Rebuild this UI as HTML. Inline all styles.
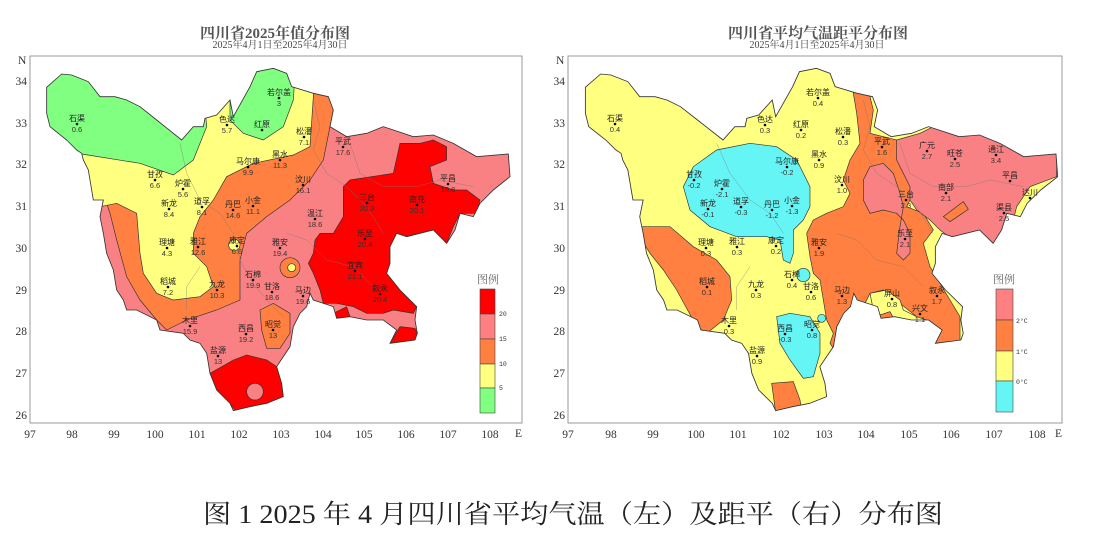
<!DOCTYPE html>
<html><head><meta charset="utf-8">
<style>
html,body{margin:0;padding:0;background:#fff;}
svg{display:block;}
.t{font-family:"Liberation Serif","Noto Serif CJK SC",serif;}
.s{font-family:"Liberation Sans","Noto Sans CJK SC",sans-serif;font-size:8px;fill:#222;text-anchor:middle;}
.v{font-family:"Liberation Sans",sans-serif;font-size:7.5px;fill:#333;text-anchor:middle;}
.ax{font-family:"Liberation Serif",serif;font-size:11.5px;fill:#333;}
</style></head><body>
<svg width="1099" height="548" viewBox="0 0 1099 548" xmlns="http://www.w3.org/2000/svg">
<defs>
<path id="sc" d="M140,262 L185,222 L215,225 L265,245 L300,290 L345,290 L380,300 L420,320 L470,360 L545,420 L580,380 L610,380 L615,355 L650,345 L690,300 L700,350 L750,260 L770,215 L820,205 L860,220 L875,260 L940,280 L985,290 L1000,330 L990,380 L1040,410 L1100,400 L1150,380 L1240,410 L1300,405 L1360,430 L1430,470 L1525,462 L1530,530 L1480,570 L1440,610 L1420,650 L1380,640 L1365,690 L1340,730 L1300,690 L1260,700 L1220,710 L1190,700 L1170,740 L1170,790 L1160,820 L1200,870 L1250,920 L1245,960 L1252,1000 L1245,1020 L1170,1030 L1190,990 L1150,960 L1100,960 L1050,950 L1010,955 L1000,920 L940,900 L930,880 L920,920 L900,940 L880,980 L870,1040 L850,1070 L830,1100 L845,1150 L850,1190 L800,1210 L750,1220 L700,1232 L690,1210 L650,1170 L630,1120 L620,1060 L600,1030 L570,1020 L550,1000 L480,990 L470,960 L410,930 L380,930 L370,900 L350,870 L340,810 L320,760 L310,700 L300,650 L310,600 L280,600 L265,510 L250,480 L245,460 L230,450 L200,420 L150,380 L140,340 Z"/>
<clipPath id="clipL"><use href="#sc"/></clipPath>
</defs>

<!-- ============ LEFT PANEL ============ -->
<text class="t" x="275" y="38" font-size="15" text-anchor="middle" fill="#555" font-weight="bold">四川省2025年值分布图</text>
<text class="t" x="280" y="48" font-size="10" text-anchor="middle" fill="#444">2025年4月1日至2025年4月30日</text>
<rect x="30" y="56" width="492" height="367" fill="none" stroke="#999" stroke-width="1"/>
<g transform="scale(0.33333)">
 <g clip-path="url(#clipL)">
  <rect x="0" y="0" width="1700" height="1400" fill="#f98184"/>
  <path d="M320,610 L100,300 L100,200 L960,200 L990,290 L1000,330 L990,380 L970,480 L930,540 L870,600 L800,650 L740,700 L720,780 L720,900 L650,930 L560,960 L500,990 L470,960 L420,900 L380,830 L350,720 L330,640 Z" fill="#ff8040" stroke="#333" stroke-width="2"/>
  <path d="M100,200 L940,200 L940,290 L930,440 L880,465 L760,490 L680,530 L640,600 L600,650 L580,700 L580,760 L620,800 L640,860 L600,890 L520,900 L470,880 L430,820 L420,760 L410,640 L350,610 L300,620 L100,600 Z" fill="#ffff80" stroke="#333" stroke-width="2"/>
  <path d="M100,150 L600,150 L620,380 L580,480 L520,525 L420,490 L245,462 L100,460 Z" fill="#80ff80" stroke="#333" stroke-width="2"/>
  <path d="M690,150 L890,150 L880,300 L850,380 L790,420 L730,400 L690,360 Z" fill="#80ff80" stroke="#333" stroke-width="2"/>
  <path d="M780,930 L820,910 L870,940 L870,1000 L840,1045 L800,1045 L785,990 Z" fill="#ff8040" stroke="#333" stroke-width="2"/>
  <circle cx="703" cy="735" r="17" fill="#ffff80" stroke="#333" stroke-width="2"/>
  <circle cx="870" cy="803" r="30" fill="#ff8040" stroke="#333" stroke-width="2"/>
  <circle cx="875" cy="803" r="12" fill="#ffff80" stroke="#333" stroke-width="2"/>
  <path d="M1030,560 L1050,540 L1180,520 L1200,430 L1260,430 L1300,420 L1340,440 L1340,480 L1290,500 L1300,550 L1360,570 L1400,570 L1440,600 L1430,640 L1380,640 L1360,680 L1340,730 L1320,720 L1300,690 L1260,700 L1210,710 L1190,700 L1170,740 L1170,790 L1160,820 L1200,870 L1250,920 L1240,940 L1180,930 L1150,940 L1100,940 L1060,920 L1010,910 L970,910 L960,870 L940,820 L925,790 L940,760 L945,720 L960,700 L1000,700 L1030,650 Z" fill="#ff0000" stroke="#333" stroke-width="2"/>
  <path d="M1170,1030 L1200,980 L1245,985 L1255,1010 L1230,1028 Z" fill="#ff0000" stroke="#333" stroke-width="2"/>
  <path d="M1000,940 L1040,920 L1050,950 L1030,965 L1005,960 Z" fill="#ff0000" stroke="#333" stroke-width="2"/>
  <path d="M630,1120 L700,1080 L740,1065 L800,1080 L830,1100 L845,1150 L850,1190 L800,1210 L750,1222 L710,1238 L690,1210 L650,1170 Z" fill="#ff0000" stroke="#333" stroke-width="2"/>
  <circle cx="765" cy="1175" r="25" fill="#f98184" stroke="#333" stroke-width="2"/>
  <g fill="none" stroke="#777" stroke-width="1.5" opacity="0.7">
   <path d="M540,430 L560,520 L600,600 L660,640 L700,700 L720,780 L760,850 L800,900 L850,950"/>
   <path d="M940,300 L960,380 L940,450 L980,520 L1040,560 L1100,620 L1150,700"/>
   <path d="M1050,430 L1080,520 L1150,560 L1250,560 L1320,540 L1420,560"/>
   <path d="M860,700 L920,720 L980,780 L1060,800 L1120,860"/>
   <path d="M600,800 L560,860 L560,930"/>
  </g>
 </g>
 <use href="#sc" fill="none" stroke="#333" stroke-width="2.5"/>
</g>
<!-- left stations -->
<g>
<text class="s" x="77" y="121">石渠</text><circle cx="77" cy="124" r="1.3"/><text class="v" x="77" y="132">0.6</text>
<text class="s" x="227" y="122">色达</text><circle cx="227" cy="125" r="1.3"/><text class="v" x="227" y="133">5.7</text>
<text class="s" x="262" y="127">红原</text><circle cx="262" cy="130" r="1.3"/>
<text class="s" x="279" y="95">若尔盖</text><circle cx="279" cy="98" r="1.3"/><text class="v" x="279" y="106">3</text>
<text class="s" x="304" y="134">松潘</text><circle cx="304" cy="137" r="1.3"/><text class="v" x="304" y="145">7.1</text>
<text class="s" x="280" y="157">黑水</text><circle cx="280" cy="160" r="1.3"/><text class="v" x="280" y="168">11.3</text>
<text class="s" x="248" y="164">马尔康</text><circle cx="248" cy="167" r="1.3"/><text class="v" x="248" y="175">9.9</text>
<text class="s" x="155" y="177">甘孜</text><circle cx="155" cy="180" r="1.3"/><text class="v" x="155" y="188">6.6</text>
<text class="s" x="183" y="186">炉霍</text><circle cx="183" cy="189" r="1.3"/><text class="v" x="183" y="197">5.6</text>
<text class="s" x="169" y="206">新龙</text><circle cx="169" cy="209" r="1.3"/><text class="v" x="169" y="217">8.4</text>
<text class="s" x="202" y="204">道孚</text><circle cx="202" cy="207" r="1.3"/><text class="v" x="202" y="215">8.1</text>
<text class="s" x="233" y="207">丹巴</text><circle cx="233" cy="210" r="1.3"/><text class="v" x="233" y="218">14.6</text>
<text class="s" x="253" y="203">小金</text><circle cx="253" cy="206" r="1.3"/><text class="v" x="253" y="214">11.1</text>
<text class="s" x="167" y="245">理塘</text><circle cx="167" cy="248" r="1.3"/><text class="v" x="167" y="256">4.3</text>
<text class="s" x="198" y="244">雅江</text><circle cx="198" cy="247" r="1.3"/><text class="v" x="198" y="255">12.6</text>
<text class="s" x="237" y="243">康定</text><circle cx="237" cy="246" r="1.3"/><text class="v" x="237" y="254">6.6</text>
<text class="s" x="168" y="284">稻城</text><circle cx="168" cy="287" r="1.3"/><text class="v" x="168" y="295">7.2</text>
<text class="s" x="217" y="287">九龙</text><circle cx="217" cy="290" r="1.3"/><text class="v" x="217" y="298">10.3</text>
<text class="s" x="190" y="323">木里</text><circle cx="190" cy="326" r="1.3"/><text class="v" x="190" y="334">15.9</text>
<text class="s" x="246" y="331">西昌</text><circle cx="246" cy="334" r="1.3"/><text class="v" x="246" y="342">19.2</text>
<text class="s" x="218" y="353">盐源</text><circle cx="218" cy="356" r="1.3"/><text class="v" x="218" y="364">13</text>
<text class="s" x="253" y="277">石棉</text><circle cx="253" cy="280" r="1.3"/><text class="v" x="253" y="288">19.9</text>
<text class="s" x="272" y="289">甘洛</text><circle cx="272" cy="292" r="1.3"/><text class="v" x="272" y="300">18.6</text>
<text class="s" x="273" y="327">昭觉</text><circle cx="273" cy="330" r="1.3"/><text class="v" x="273" y="338">13</text>
<text class="s" x="303" y="293">马边</text><circle cx="303" cy="296" r="1.3"/><text class="v" x="303" y="304">19.6</text>
<text class="s" x="343" y="144">平武</text><circle cx="343" cy="147" r="1.3"/><text class="v" x="343" y="155">17.6</text>
<text class="s" x="303" y="182">汶川</text><circle cx="303" cy="185" r="1.3"/><text class="v" x="303" y="193">16.1</text>
<text class="s" x="280" y="245">雅安</text><circle cx="280" cy="248" r="1.3"/><text class="v" x="280" y="256">19.4</text>
<text class="s" x="315" y="216">温江</text><circle cx="315" cy="219" r="1.3"/><text class="v" x="315" y="227">18.6</text>
<text class="s" x="367" y="200">三台</text><circle cx="367" cy="203" r="1.3"/><text class="v" x="367" y="211">20.3</text>
<text class="s" x="417" y="202">南充</text><circle cx="417" cy="205" r="1.3"/><text class="v" x="417" y="213">20.1</text>
<text class="s" x="448" y="181">平昌</text><circle cx="448" cy="184" r="1.3"/><text class="v" x="448" y="192">19.8</text>
<text class="s" x="365" y="236">乐至</text><circle cx="365" cy="239" r="1.3"/><text class="v" x="365" y="247">20.4</text>
<text class="s" x="355" y="268">宜宾</text><circle cx="355" cy="271" r="1.3"/><text class="v" x="355" y="279">21.1</text>
<text class="s" x="380" y="291">叙永</text><circle cx="380" cy="294" r="1.3"/><text class="v" x="380" y="302">20.4</text>
</g>
<!-- left legend -->
<text class="t" x="488" y="283" font-size="11" text-anchor="middle" fill="#666">图例</text>
<rect x="480" y="289" width="15" height="25" fill="#ff0000" stroke="#444" stroke-width="0.6"/>
<rect x="480" y="314" width="15" height="25" fill="#ff8080" stroke="#444" stroke-width="0.6"/>
<rect x="480" y="339" width="15" height="25" fill="#ff8040" stroke="#444" stroke-width="0.6"/>
<rect x="480" y="364" width="15" height="24" fill="#ffff80" stroke="#444" stroke-width="0.6"/>
<rect x="480" y="388" width="15" height="25" fill="#80ff80" stroke="#444" stroke-width="0.6"/>
<g font-family="Liberation Mono,monospace" font-size="6.5" fill="#333"><text x="499" y="316">20</text><text x="499" y="341">15</text><text x="499" y="366">10</text><text x="499" y="390">5</text></g>
<!-- left axes -->
<g class="ax" text-anchor="middle">
<text x="30" y="438">97</text><text x="72" y="438">98</text><text x="114" y="438">99</text><text x="155" y="438">100</text><text x="197" y="438">101</text><text x="239" y="438">102</text><text x="281" y="438">103</text><text x="323" y="438">104</text><text x="364" y="438">105</text><text x="406" y="438">106</text><text x="448" y="438">107</text><text x="490" y="438">108</text>
</g>
<text class="ax" x="515" y="437" font-size="9">E</text>
<g class="ax" text-anchor="end">
<text x="27" y="85">34</text><text x="27" y="127">33</text><text x="27" y="168">32</text><text x="27" y="210">31</text><text x="27" y="252">30</text><text x="27" y="294">29</text><text x="27" y="335">28</text><text x="27" y="377">27</text><text x="27" y="419">26</text>
</g>
<text class="ax" x="18" y="64" font-size="9">N</text>

<!-- ============ RIGHT PANEL ============ -->
<text class="t" x="818" y="38" font-size="15" text-anchor="middle" fill="#555" font-weight="bold">四川省平均气温距平分布图</text>
<text class="t" x="817" y="48" font-size="10" text-anchor="middle" fill="#444">2025年4月1日至2025年4月30日</text>
<rect x="568" y="56" width="494" height="367" fill="none" stroke="#999" stroke-width="1"/>
<defs><clipPath id="clipR"><use href="#sc" transform="translate(537.8,0) scale(0.3398,0.33333)"/></clipPath></defs>
<g clip-path="url(#clipR)">
 <rect x="560" y="50" width="520" height="380" fill="#ffff80"/>
 <g transform="translate(550,0) scale(0.33333)" stroke="#333" stroke-width="2">
  <path d="M400,560 L430,500 L500,450 L600,430 L680,440 L740,480 L780,560 L780,620 L760,660 L730,690 L730,760 L720,790 L700,780 L690,720 L650,710 L560,710 L480,680 L420,630 Z" fill="#66f5f5"/>
  <path d="M680,950 L720,940 L780,950 L810,1000 L810,1060 L790,1130 L760,1135 L720,1080 L690,1030 Z" fill="#66f5f5"/>
  <circle cx="760" cy="825" r="20" fill="#66f5f5"/><circle cx="815" cy="955" r="12" fill="#66f5f5"/>
  <path d="M250,680 L360,680 L430,740 L500,780 L540,830 L545,900 L520,960 L470,1000 L440,980 L380,870 L340,810 L300,760 Z" fill="#ff8040"/>
  <path d="M905,250 L950,250 L970,330 L960,400 L1040,420 L1050,480 L1100,530 L1100,560 L1070,620 L1120,640 L1150,690 L1120,730 L1140,800 L1170,850 L1200,900 L1230,950 L1230,1040 L1140,1030 L1110,1000 L1100,950 L1000,870 L960,880 L940,920 L900,950 L880,970 L860,1000 L860,1060 L840,1030 L850,1000 L830,960 L820,900 L810,840 L790,820 L780,770 L770,700 L790,660 L830,640 L880,620 L900,580 L880,540 L900,480 L930,430 L920,340 Z" fill="#ff8040"/>
  <path d="M960,880 L1010,870 L1050,900 L1060,930 L1100,950 L1130,960 L1140,1000 L1110,1020 L1080,1000 L1040,980 L1000,950 L970,930 Z" fill="#ffff80"/>
  <path d="M975,950 L1020,935 L1050,990 L1010,1030 L985,1010 Z" fill="#ff8040"/>
  <path d="M665,1150 L730,1145 L750,1200 L760,1260 L680,1260 Z" fill="#ff8040"/>
  <path d="M1040,420 L1110,400 L1150,380 L1230,400 L1300,395 L1360,420 L1420,460 L1520,460 L1520,530 L1440,560 L1400,620 L1380,700 L1330,730 L1280,740 L1210,720 L1170,690 L1140,660 L1100,630 L1080,600 L1080,560 L1060,520 L1040,480 Z" fill="#f98184"/>
  <path d="M960,500 L1000,490 L1030,520 L1050,580 L1060,620 L1050,680 L1040,760 L1060,780 L1080,760 L1080,700 L1060,660 L1040,640 L1000,630 L960,640 L940,600 L940,540 Z" fill="#f98184"/>
  <path d="M1180,650 L1240,605 L1255,628 L1200,665 Z" fill="#ff8040"/>
  <g fill="none" stroke="#777" stroke-width="1.5" opacity="0.7">
   <path d="M500,430 L540,520 L600,600 L660,640 L700,700"/>
   <path d="M940,300 L960,380 L940,450 L980,520 L1040,560 L1100,620 L1150,700"/>
   <path d="M1050,430 L1080,520 L1150,560 L1250,560 L1320,540 L1420,560"/>
   <path d="M860,700 L920,720 L980,780 L1060,800 L1120,860"/>
   <path d="M600,800 L560,860 L560,930"/>
  </g>
 </g>
</g>
<use href="#sc" transform="translate(537.8,0) scale(0.3398,0.33333)" fill="none" stroke="#333" stroke-width="2.5"/>
<!-- right stations -->
<g>
<text class="s" x="615" y="121">石渠</text><circle cx="615" cy="124" r="1.3"/><text class="v" x="615" y="132">0.4</text>
<text class="s" x="765" y="122">色达</text><circle cx="765" cy="125" r="1.3"/><text class="v" x="765" y="133">0.3</text>
<text class="s" x="801" y="127">红原</text><circle cx="801" cy="130" r="1.3"/><text class="v" x="801" y="138">0.2</text>
<text class="s" x="818" y="95">若尔盖</text><circle cx="818" cy="98" r="1.3"/><text class="v" x="818" y="106">0.4</text>
<text class="s" x="843" y="134">松潘</text><circle cx="843" cy="137" r="1.3"/><text class="v" x="843" y="145">0.3</text>
<text class="s" x="819" y="157">黑水</text><circle cx="819" cy="160" r="1.3"/><text class="v" x="819" y="168">0.9</text>
<text class="s" x="787" y="164">马尔康</text><circle cx="787" cy="167" r="1.3"/><text class="v" x="787" y="175">-0.2</text>
<text class="s" x="694" y="177">甘孜</text><circle cx="694" cy="180" r="1.3"/><text class="v" x="694" y="188">-0.2</text>
<text class="s" x="722" y="186">炉霍</text><circle cx="722" cy="189" r="1.3"/><text class="v" x="722" y="197">-2.1</text>
<text class="s" x="708" y="206">新龙</text><circle cx="708" cy="209" r="1.3"/><text class="v" x="708" y="217">-0.1</text>
<text class="s" x="741" y="204">道孚</text><circle cx="741" cy="207" r="1.3"/><text class="v" x="741" y="215">-0.3</text>
<text class="s" x="772" y="207">丹巴</text><circle cx="772" cy="210" r="1.3"/><text class="v" x="772" y="218">-1.2</text>
<text class="s" x="792" y="203">小金</text><circle cx="792" cy="206" r="1.3"/><text class="v" x="792" y="214">-1.3</text>
<text class="s" x="706" y="245">理塘</text><circle cx="706" cy="248" r="1.3"/><text class="v" x="706" y="256">0.3</text>
<text class="s" x="737" y="244">雅江</text><circle cx="737" cy="247" r="1.3"/><text class="v" x="737" y="255">0.3</text>
<text class="s" x="776" y="243">康定</text><circle cx="776" cy="246" r="1.3"/><text class="v" x="776" y="254">0.2</text>
<text class="s" x="707" y="284">稻城</text><circle cx="707" cy="287" r="1.3"/><text class="v" x="707" y="295">0.1</text>
<text class="s" x="756" y="287">九龙</text><circle cx="756" cy="290" r="1.3"/><text class="v" x="756" y="298">0.3</text>
<text class="s" x="729" y="323">木里</text><circle cx="729" cy="326" r="1.3"/><text class="v" x="729" y="334">0.3</text>
<text class="s" x="785" y="331">西昌</text><circle cx="785" cy="334" r="1.3"/><text class="v" x="785" y="342">-0.3</text>
<text class="s" x="757" y="353">盐源</text><circle cx="757" cy="356" r="1.3"/><text class="v" x="757" y="364">0.9</text>
<text class="s" x="792" y="277">石棉</text><circle cx="792" cy="280" r="1.3"/><text class="v" x="792" y="288">0.4</text>
<text class="s" x="811" y="289">甘洛</text><circle cx="811" cy="292" r="1.3"/><text class="v" x="811" y="300">0.6</text>
<text class="s" x="812" y="327">昭觉</text><circle cx="812" cy="330" r="1.3"/><text class="v" x="812" y="338">0.8</text>
<text class="s" x="842" y="293">马边</text><circle cx="842" cy="296" r="1.3"/><text class="v" x="842" y="304">1.3</text>
<text class="s" x="882" y="144">平武</text><circle cx="882" cy="147" r="1.3"/><text class="v" x="882" y="155">1.6</text>
<text class="s" x="842" y="182">汶川</text><circle cx="842" cy="185" r="1.3"/><text class="v" x="842" y="193">1.0</text>
<text class="s" x="819" y="245">雅安</text><circle cx="819" cy="248" r="1.3"/><text class="v" x="819" y="256">1.9</text>
<text class="s" x="927" y="148">广元</text><circle cx="927" cy="151" r="1.3"/><text class="v" x="927" y="159">2.7</text>
<text class="s" x="955" y="156">旺苍</text><circle cx="955" cy="159" r="1.3"/><text class="v" x="955" y="167">2.5</text>
<text class="s" x="996" y="152">通江</text><circle cx="996" cy="155" r="1.3"/><text class="v" x="996" y="163">3.4</text>
<text class="s" x="1010" y="178">平昌</text><circle cx="1010" cy="181" r="1.3"/>
<text class="s" x="1030" y="195">达川</text><circle cx="1030" cy="198" r="1.3"/>
<text class="s" x="946" y="190">南部</text><circle cx="946" cy="193" r="1.3"/><text class="v" x="946" y="201">2.1</text>
<text class="s" x="906" y="197">三台</text><circle cx="906" cy="200" r="1.3"/><text class="v" x="906" y="208">2.3</text>
<text class="s" x="1004" y="210">渠县</text><circle cx="1004" cy="213" r="1.3"/><text class="v" x="1004" y="221">2.5</text>
<text class="s" x="905" y="236">乐至</text><circle cx="905" cy="239" r="1.3"/><text class="v" x="905" y="247">2.1</text>
<text class="s" x="892" y="296">屏山</text><circle cx="892" cy="299" r="1.3"/><text class="v" x="892" y="307">0.8</text>
<text class="s" x="920" y="311">兴文</text><circle cx="920" cy="314" r="1.3"/><text class="v" x="920" y="322">1.1</text>
<text class="s" x="937" y="293">叙永</text><circle cx="937" cy="296" r="1.3"/><text class="v" x="937" y="304">1.7</text>
</g>
<!-- right legend -->
<text class="t" x="1004" y="283" font-size="11" text-anchor="middle" fill="#666">图例</text>
<rect x="996" y="289" width="17" height="31" fill="#ff8080" stroke="#444" stroke-width="0.6"/>
<rect x="996" y="320" width="17" height="31" fill="#ff8040" stroke="#444" stroke-width="0.6"/>
<rect x="996" y="351" width="17" height="30" fill="#ffff80" stroke="#444" stroke-width="0.6"/>
<rect x="996" y="381" width="17" height="31" fill="#66f5f5" stroke="#444" stroke-width="0.6"/>
<g font-family="Liberation Mono,monospace" font-size="6.5" fill="#333"><text x="1016" y="323">2°C</text><text x="1016" y="354">1°C</text><text x="1016" y="384">0°C</text></g>
<!-- right axes -->
<g class="ax" text-anchor="middle">
<text x="568" y="438">97</text><text x="611" y="438">98</text><text x="653" y="438">99</text><text x="696" y="438">100</text><text x="738" y="438">101</text><text x="781" y="438">102</text><text x="824" y="438">103</text><text x="866" y="438">104</text><text x="909" y="438">105</text><text x="951" y="438">106</text><text x="994" y="438">107</text><text x="1037" y="438">108</text>
</g>
<text class="ax" x="1055" y="437" font-size="9">E</text>
<g class="ax" text-anchor="end">
<text x="565" y="85">34</text><text x="565" y="127">33</text><text x="565" y="168">32</text><text x="565" y="210">31</text><text x="565" y="252">30</text><text x="565" y="294">29</text><text x="565" y="335">28</text><text x="565" y="377">27</text><text x="565" y="419">26</text>
</g>
<text class="ax" x="556" y="64" font-size="9">N</text>

<!-- caption -->
<text x="203" y="523" font-family="Liberation Serif","Noto Serif CJK SC",serif font-size="26" fill="#222" textLength="740" lengthAdjust="spacingAndGlyphs" style="font-family:'Liberation Serif','Noto Serif CJK SC',serif">图 1 2025 年 4 月四川省平均气温（左）及距平（右）分布图</text>
</svg>
</body></html>
